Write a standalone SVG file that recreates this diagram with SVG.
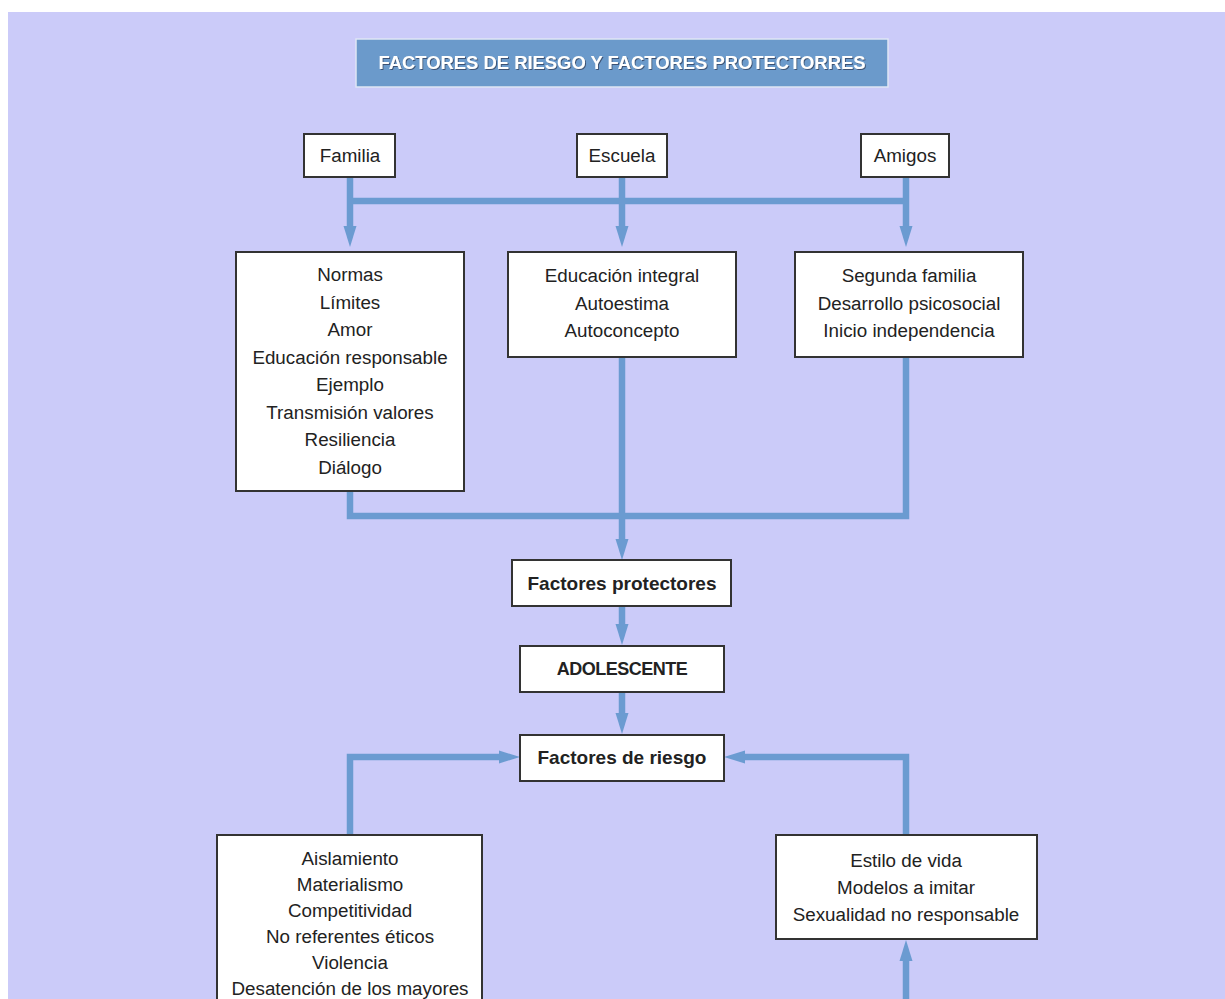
<svg xmlns="http://www.w3.org/2000/svg" width="1225" height="999" viewBox="0 0 1225 999">
<style>
.bg{fill:#cbcbf9}
.box{fill:#ffffff;stroke:#333333;stroke-width:2}
.t{font-family:"Liberation Sans",Arial,sans-serif;font-size:18.8px;fill:#222222;text-anchor:middle}
.tb{font-family:"Liberation Sans",Arial,sans-serif;font-size:19px;font-weight:bold;fill:#222222;text-anchor:middle}
.title{font-family:"Liberation Sans",Arial,sans-serif;font-size:18px;font-weight:bold;fill:#ffffff;text-anchor:middle}
.c{fill:none;stroke:#6b9bd1;stroke-width:6.5;stroke-linejoin:miter;stroke-linecap:butt}
</style>
<defs>
<marker id="ah" markerUnits="userSpaceOnUse" markerWidth="22" markerHeight="16" refX="0" refY="8" orient="auto" viewBox="0 0 22 16">
<path d="M0,1.5 L21,8 L0,14.5 Z" fill="#6b9bd1"/>
</marker>
<filter id="sh" x="-5%" y="-20%" width="110%" height="140%">
<feDropShadow dx="1" dy="1" stdDeviation="0.6" flood-color="#2a3550" flood-opacity="0.7"/>
</filter>
</defs>
<rect class="bg" x="8" y="12" width="1217" height="987"/>

<g id="title">
<rect x="356" y="39" width="532" height="48" fill="#6b9acb" stroke="#dfe6f5" stroke-width="1.5"/>
<text class="title" x="622" y="69" textLength="487" lengthAdjust="spacingAndGlyphs" filter="url(#sh)">FACTORES DE RIESGO Y FACTORES PROTECTORRES</text>
</g>

<g id="connectors">
<path class="c" d="M350,178 V226" marker-end="url(#ah)"/>
<path class="c" d="M622,178 V226" marker-end="url(#ah)"/>
<path class="c" d="M906,178 V226" marker-end="url(#ah)"/>
<path class="c" d="M350,201 H906"/>
<path class="c" d="M350,491 V516 H906 V357"/>
<path class="c" d="M622,357 V539" marker-end="url(#ah)"/>
<path class="c" d="M622,606 V624" marker-end="url(#ah)"/>
<path class="c" d="M622,692 V713" marker-end="url(#ah)"/>
<path class="c" d="M350,835 V757 H499" marker-end="url(#ah)"/>
<path class="c" d="M906,835 V757 H745" marker-end="url(#ah)"/>
<path class="c" d="M906,999 V961" marker-end="url(#ah)"/>
</g>

<g id="familia">
<rect class="box" x="304" y="134" width="91" height="43"/>
<text class="t" x="350" y="162">Familia</text>
</g>
<g id="escuela">
<rect class="box" x="577" y="134" width="90" height="43"/>
<text class="t" x="622" y="162">Escuela</text>
</g>
<g id="amigos">
<rect class="box" x="861" y="134" width="88" height="43"/>
<text class="t" x="905" y="162">Amigos</text>
</g>

<g id="familia-factores">
<rect class="box" x="236" y="252" width="228" height="239"/>
<text class="t" x="350" y="281">Normas</text>
<text class="t" x="350" y="308.5">Límites</text>
<text class="t" x="350" y="336">Amor</text>
<text class="t" x="350" y="363.5">Educación responsable</text>
<text class="t" x="350" y="391">Ejemplo</text>
<text class="t" x="350" y="418.5">Transmisión valores</text>
<text class="t" x="350" y="446">Resiliencia</text>
<text class="t" x="350" y="473.5">Diálogo</text>
</g>

<g id="escuela-factores">
<rect class="box" x="508" y="252" width="228" height="105"/>
<text class="t" x="622" y="282">Educación integral</text>
<text class="t" x="622" y="309.5">Autoestima</text>
<text class="t" x="622" y="337">Autoconcepto</text>
</g>

<g id="amigos-factores">
<rect class="box" x="795" y="252" width="228" height="105"/>
<text class="t" x="909" y="282">Segunda familia</text>
<text class="t" x="909" y="309.5">Desarrollo psicosocial</text>
<text class="t" x="909" y="337">Inicio independencia</text>
</g>

<g id="factores-protectores">
<rect class="box" x="512" y="560" width="219" height="46"/>
<text class="tb" x="622" y="590">Factores protectores</text>
</g>

<g id="adolescente">
<rect class="box" x="520" y="646" width="204" height="46"/>
<text class="tb" x="622" y="675" style="font-size:18px;letter-spacing:-0.5px">ADOLESCENTE</text>
</g>

<g id="factores-riesgo">
<rect class="box" x="520" y="735" width="204" height="46"/>
<text class="tb" x="622" y="764">Factores de riesgo</text>
</g>

<g id="riesgo-sociales">
<rect class="box" x="217" y="835" width="265" height="180"/>
<text class="t" x="350" y="865">Aislamiento</text>
<text class="t" x="350" y="891">Materialismo</text>
<text class="t" x="350" y="917">Competitividad</text>
<text class="t" x="350" y="943">No referentes éticos</text>
<text class="t" x="350" y="969">Violencia</text>
<text class="t" x="350" y="994.5">Desatención de los mayores</text>
</g>

<g id="riesgo-personales">
<rect class="box" x="776" y="835" width="261" height="104"/>
<text class="t" x="906" y="866.5">Estilo de vida</text>
<text class="t" x="906" y="893.5">Modelos a imitar</text>
<text class="t" x="906" y="921">Sexualidad no responsable</text>
</g>
</svg>
